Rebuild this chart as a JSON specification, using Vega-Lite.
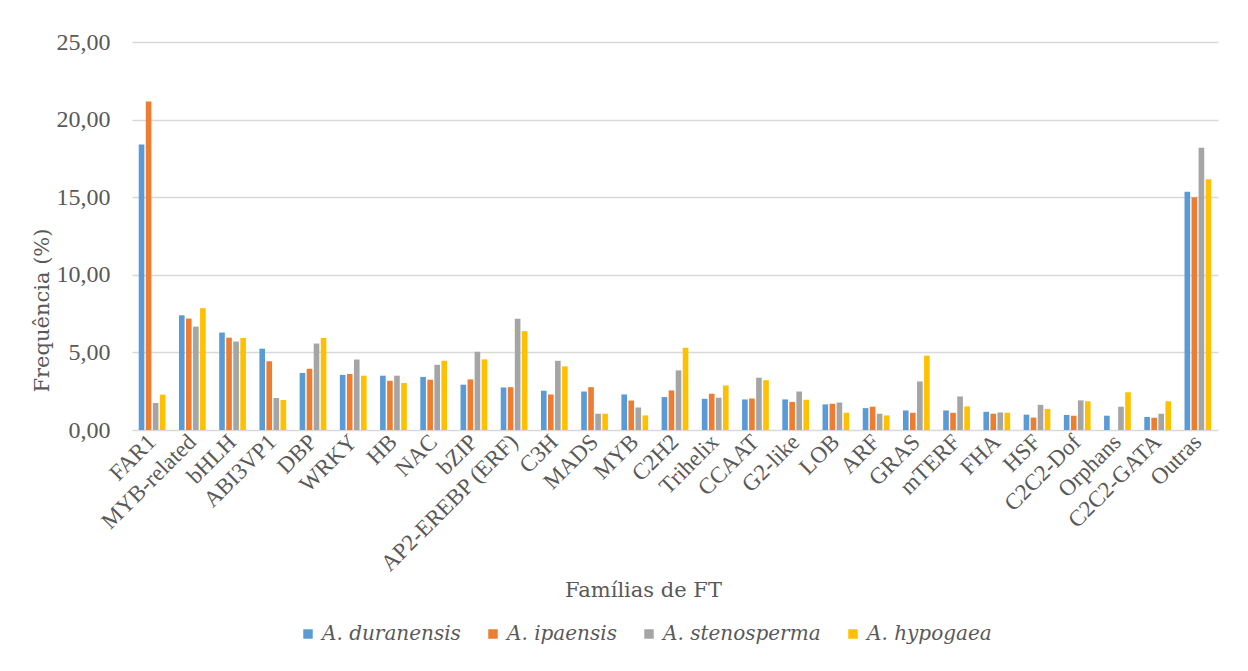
{
  "$schema": "https://vega.github.io/schema/vega-lite/v6.json",
  "width": 1086,
  "height": 388,
  "autosize": {"type": "none"},
  "padding": {"left": 132, "top": 42, "right": 30, "bottom": 241},
  "background": "#ffffff",
  "config": {
    "view": {"stroke": null}
  },
  "data": {
    "values": [
      {"familia": "FAR1", "especie": "A. duranensis", "valor": 18.40},
      {"familia": "FAR1", "especie": "A. ipaensis", "valor": 21.16},
      {"familia": "FAR1", "especie": "A. stenosperma", "valor": 1.74},
      {"familia": "FAR1", "especie": "A. hypogaea", "valor": 2.28},
      {"familia": "MYB-related", "especie": "A. duranensis", "valor": 7.39},
      {"familia": "MYB-related", "especie": "A. ipaensis", "valor": 7.18},
      {"familia": "MYB-related", "especie": "A. stenosperma", "valor": 6.66},
      {"familia": "MYB-related", "especie": "A. hypogaea", "valor": 7.85},
      {"familia": "bHLH", "especie": "A. duranensis", "valor": 6.28},
      {"familia": "bHLH", "especie": "A. ipaensis", "valor": 5.95},
      {"familia": "bHLH", "especie": "A. stenosperma", "valor": 5.70},
      {"familia": "bHLH", "especie": "A. hypogaea", "valor": 5.93},
      {"familia": "ABI3VP1", "especie": "A. duranensis", "valor": 5.24},
      {"familia": "ABI3VP1", "especie": "A. ipaensis", "valor": 4.43},
      {"familia": "ABI3VP1", "especie": "A. stenosperma", "valor": 2.06},
      {"familia": "ABI3VP1", "especie": "A. hypogaea", "valor": 1.94},
      {"familia": "DBP", "especie": "A. duranensis", "valor": 3.68},
      {"familia": "DBP", "especie": "A. ipaensis", "valor": 3.95},
      {"familia": "DBP", "especie": "A. stenosperma", "valor": 5.57},
      {"familia": "DBP", "especie": "A. hypogaea", "valor": 5.93},
      {"familia": "WRKY", "especie": "A. duranensis", "valor": 3.55},
      {"familia": "WRKY", "especie": "A. ipaensis", "valor": 3.61},
      {"familia": "WRKY", "especie": "A. stenosperma", "valor": 4.54},
      {"familia": "WRKY", "especie": "A. hypogaea", "valor": 3.50},
      {"familia": "HB", "especie": "A. duranensis", "valor": 3.50},
      {"familia": "HB", "especie": "A. ipaensis", "valor": 3.18},
      {"familia": "HB", "especie": "A. stenosperma", "valor": 3.50},
      {"familia": "HB", "especie": "A. hypogaea", "valor": 3.03},
      {"familia": "NAC", "especie": "A. duranensis", "valor": 3.42},
      {"familia": "NAC", "especie": "A. ipaensis", "valor": 3.24},
      {"familia": "NAC", "especie": "A. stenosperma", "valor": 4.20},
      {"familia": "NAC", "especie": "A. hypogaea", "valor": 4.46},
      {"familia": "bZIP", "especie": "A. duranensis", "valor": 2.92},
      {"familia": "bZIP", "especie": "A. ipaensis", "valor": 3.26},
      {"familia": "bZIP", "especie": "A. stenosperma", "valor": 5.04},
      {"familia": "bZIP", "especie": "A. hypogaea", "valor": 4.55},
      {"familia": "AP2-EREBP (ERF)", "especie": "A. duranensis", "valor": 2.74},
      {"familia": "AP2-EREBP (ERF)", "especie": "A. ipaensis", "valor": 2.76},
      {"familia": "AP2-EREBP (ERF)", "especie": "A. stenosperma", "valor": 7.17},
      {"familia": "AP2-EREBP (ERF)", "especie": "A. hypogaea", "valor": 6.37},
      {"familia": "C3H", "especie": "A. duranensis", "valor": 2.53},
      {"familia": "C3H", "especie": "A. ipaensis", "valor": 2.29},
      {"familia": "C3H", "especie": "A. stenosperma", "valor": 4.46},
      {"familia": "C3H", "especie": "A. hypogaea", "valor": 4.10},
      {"familia": "MADS", "especie": "A. duranensis", "valor": 2.48},
      {"familia": "MADS", "especie": "A. ipaensis", "valor": 2.76},
      {"familia": "MADS", "especie": "A. stenosperma", "valor": 1.05},
      {"familia": "MADS", "especie": "A. hypogaea", "valor": 1.05},
      {"familia": "MYB", "especie": "A. duranensis", "valor": 2.29},
      {"familia": "MYB", "especie": "A. ipaensis", "valor": 1.90},
      {"familia": "MYB", "especie": "A. stenosperma", "valor": 1.45},
      {"familia": "MYB", "especie": "A. hypogaea", "valor": 0.94},
      {"familia": "C2H2", "especie": "A. duranensis", "valor": 2.12},
      {"familia": "C2H2", "especie": "A. ipaensis", "valor": 2.55},
      {"familia": "C2H2", "especie": "A. stenosperma", "valor": 3.84},
      {"familia": "C2H2", "especie": "A. hypogaea", "valor": 5.30},
      {"familia": "Trihelix", "especie": "A. duranensis", "valor": 2.01},
      {"familia": "Trihelix", "especie": "A. ipaensis", "valor": 2.34},
      {"familia": "Trihelix", "especie": "A. stenosperma", "valor": 2.08},
      {"familia": "Trihelix", "especie": "A. hypogaea", "valor": 2.87},
      {"familia": "CCAAT", "especie": "A. duranensis", "valor": 1.97},
      {"familia": "CCAAT", "especie": "A. ipaensis", "valor": 2.03},
      {"familia": "CCAAT", "especie": "A. stenosperma", "valor": 3.37},
      {"familia": "CCAAT", "especie": "A. hypogaea", "valor": 3.21},
      {"familia": "G2-like", "especie": "A. duranensis", "valor": 1.97},
      {"familia": "G2-like", "especie": "A. ipaensis", "valor": 1.81},
      {"familia": "G2-like", "especie": "A. stenosperma", "valor": 2.48},
      {"familia": "G2-like", "especie": "A. hypogaea", "valor": 1.95},
      {"familia": "LOB", "especie": "A. duranensis", "valor": 1.65},
      {"familia": "LOB", "especie": "A. ipaensis", "valor": 1.69},
      {"familia": "LOB", "especie": "A. stenosperma", "valor": 1.77},
      {"familia": "LOB", "especie": "A. hypogaea", "valor": 1.11},
      {"familia": "ARF", "especie": "A. duranensis", "valor": 1.41},
      {"familia": "ARF", "especie": "A. ipaensis", "valor": 1.50},
      {"familia": "ARF", "especie": "A. stenosperma", "valor": 1.05},
      {"familia": "ARF", "especie": "A. hypogaea", "valor": 0.94},
      {"familia": "GRAS", "especie": "A. duranensis", "valor": 1.26},
      {"familia": "GRAS", "especie": "A. ipaensis", "valor": 1.11},
      {"familia": "GRAS", "especie": "A. stenosperma", "valor": 3.13},
      {"familia": "GRAS", "especie": "A. hypogaea", "valor": 4.79},
      {"familia": "mTERF", "especie": "A. duranensis", "valor": 1.26},
      {"familia": "mTERF", "especie": "A. ipaensis", "valor": 1.11},
      {"familia": "mTERF", "especie": "A. stenosperma", "valor": 2.16},
      {"familia": "mTERF", "especie": "A. hypogaea", "valor": 1.52},
      {"familia": "FHA", "especie": "A. duranensis", "valor": 1.17},
      {"familia": "FHA", "especie": "A. ipaensis", "valor": 1.05},
      {"familia": "FHA", "especie": "A. stenosperma", "valor": 1.13},
      {"familia": "FHA", "especie": "A. hypogaea", "valor": 1.11},
      {"familia": "HSF", "especie": "A. duranensis", "valor": 0.99},
      {"familia": "HSF", "especie": "A. ipaensis", "valor": 0.80},
      {"familia": "HSF", "especie": "A. stenosperma", "valor": 1.62},
      {"familia": "HSF", "especie": "A. hypogaea", "valor": 1.36},
      {"familia": "C2C2-Dof", "especie": "A. duranensis", "valor": 0.97},
      {"familia": "C2C2-Dof", "especie": "A. ipaensis", "valor": 0.92},
      {"familia": "C2C2-Dof", "especie": "A. stenosperma", "valor": 1.91},
      {"familia": "C2C2-Dof", "especie": "A. hypogaea", "valor": 1.85},
      {"familia": "Orphans", "especie": "A. duranensis", "valor": 0.92},
      {"familia": "Orphans", "especie": "A. ipaensis", "valor": 0},
      {"familia": "Orphans", "especie": "A. stenosperma", "valor": 1.50},
      {"familia": "Orphans", "especie": "A. hypogaea", "valor": 2.43},
      {"familia": "C2C2-GATA", "especie": "A. duranensis", "valor": 0.84},
      {"familia": "C2C2-GATA", "especie": "A. ipaensis", "valor": 0.79},
      {"familia": "C2C2-GATA", "especie": "A. stenosperma", "valor": 1.05},
      {"familia": "C2C2-GATA", "especie": "A. hypogaea", "valor": 1.85},
      {"familia": "Outras", "especie": "A. duranensis", "valor": 15.35},
      {"familia": "Outras", "especie": "A. ipaensis", "valor": 14.99},
      {"familia": "Outras", "especie": "A. stenosperma", "valor": 18.19},
      {"familia": "Outras", "especie": "A. hypogaea", "valor": 16.15}
    ]
  },
  "mark": {"type": "bar"},
  "encoding": {
    "x": {
      "field": "familia",
      "type": "nominal",
      "sort": null,
      "scale": {"paddingInner": 0.3, "paddingOuter": 0.15},
      "axis": {
        "title": "Famílias de FT",
        "titleFont": "DejaVu Serif",
        "titleFontWeight": "normal",
        "titleFontSize": 21,
        "titleColor": "#595959",
        "titleAnchor": "middle",
        "titleX": 511,
        "titleY": 160,
        "titleBaseline": "middle",
        "labelFont": "Liberation Serif",
        "labelColor": "#595959",
        "labelFontSize": 23,
        "labelAngle": -45,
        "labelAlign": "right",
        "labelBaseline": "middle",
        "labelPadding": 8,
        "labelLimit": 0,
        "ticks": false,
        "domain": false,
        "labelOverlap": false
      }
    },
    "xOffset": {
      "field": "especie",
      "type": "nominal",
      "sort": ["A. duranensis", "A. ipaensis", "A. stenosperma", "A. hypogaea"],
      "scale": {"paddingInner": 0.2, "paddingOuter": 0.1}
    },
    "y": {
      "field": "valor",
      "type": "quantitative",
      "scale": {"domain": [0, 25], "nice": false},
      "axis": {
        "title": "Frequência (%)",
        "titleFont": "DejaVu Serif",
        "titleFontWeight": "normal",
        "titleFontSize": 21,
        "titleColor": "#595959",
        "titleAngle": -90,
        "titleX": -90,
        "titleY": 268,
        "titleAlign": "center",
        "titleBaseline": "middle",
        "titleLimit": 0,
        "values": [0, 5, 10, 15, 20, 25],
        "labelExpr": "replace(format(datum.value, '.2f'), '.', ',')",
        "labelFont": "Liberation Serif",
        "labelColor": "#595959",
        "labelFontSize": 24,
        "labelPadding": 22,
        "ticks": false,
        "domain": false,
        "grid": true,
        "gridColor": "#d9d9d9",
        "gridWidth": 1.5
      }
    },
    "color": {
      "field": "especie",
      "type": "nominal",
      "sort": ["A. duranensis", "A. ipaensis", "A. stenosperma", "A. hypogaea"],
      "scale": {
        "domain": ["A. duranensis", "A. ipaensis", "A. stenosperma", "A. hypogaea"],
        "range": ["#5b9bd5", "#ed7d31", "#a5a5a5", "#ffc000"]
      },
      "legend": {
        "title": null,
        "orient": "none",
        "direction": "horizontal",
        "legendX": 166,
        "legendY": 582,
        "symbolType": "square",
        "symbolSize": 90,
        "symbolStrokeWidth": 0,
        "labelFont": "DejaVu Serif",
        "labelFontSize": 20,
        "labelFontStyle": "italic",
        "labelColor": "#595959",
        "labelOffset": 4,
        "labelLimit": 0,
        "columnPadding": 22
      }
    }
  }
}
